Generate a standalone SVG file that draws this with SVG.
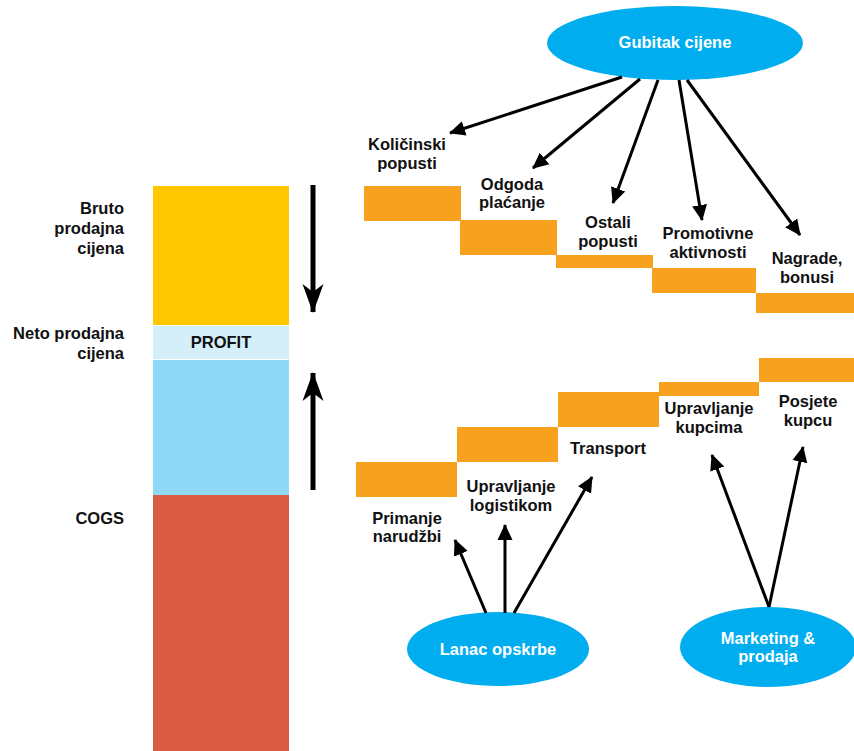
<svg xmlns="http://www.w3.org/2000/svg" width="854" height="751" viewBox="0 0 854 751">
<style>
.t{font-family:"Liberation Sans",Arial,sans-serif;font-weight:bold;font-size:16.5px;fill:#111}
.w{font-family:"Liberation Sans",Arial,sans-serif;font-weight:bold;font-size:16.5px;fill:#fff}
.st{fill:#f7a11f}
.ell{fill:#00aeef}
.c{stroke:#000;stroke-width:3;fill:none;marker-end:url(#ah)}
.k{stroke:#000;stroke-width:5;fill:none;marker-end:url(#ahb)}
</style>
<defs>
<marker id="ah" markerUnits="userSpaceOnUse" markerWidth="17" markerHeight="17" viewBox="0 0 17 17" refX="15" refY="8.5" orient="auto">
<path d="M0,1 L16,8.5 L0,16 Z" fill="#000"/>
</marker>
<marker id="ahb" markerUnits="userSpaceOnUse" markerWidth="30" markerHeight="22" viewBox="0 0 30 22" refX="28" refY="11" orient="auto">
<path d="M0,0.5 L29,11 L0,21.5 L8,11 Z" fill="#000"/>
</marker>
</defs>
<rect width="854" height="751" fill="#fff"/>

<g id="bar">
<rect x="153" y="186" width="136" height="139" fill="#ffc800"/>
<rect x="153" y="326" width="136" height="33" fill="#d4eefa"/>
<rect x="153" y="360" width="136" height="135" fill="#8fd8f6"/>
<rect x="153" y="495" width="136" height="256" fill="#d95b43"/>
<text class="t" x="221" y="348" text-anchor="middle">PROFIT</text>
</g>
<g id="labels-left" class="t" text-anchor="end">
<text x="124" y="214">Bruto</text>
<text x="124" y="234">prodajna</text>
<text x="124" y="254">cijena</text>
<text x="124" y="339">Neto prodajna</text>
<text x="124" y="359">cijena</text>
<text x="124" y="524">COGS</text>
</g>

<g id="stairs-top">
<rect class="st" x="364" y="186" width="97" height="35"/>
<rect class="st" x="460" y="220" width="97" height="35"/>
<rect class="st" x="556" y="255" width="97" height="13"/>
<rect class="st" x="652" y="268" width="104" height="25"/>
<rect class="st" x="756" y="293" width="98" height="20"/>
</g>
<g id="stairs-bottom">
<rect class="st" x="356" y="462" width="101" height="35"/>
<rect class="st" x="457" y="427" width="101" height="35"/>
<rect class="st" x="558" y="392" width="101" height="35"/>
<rect class="st" x="659" y="382" width="100" height="14"/>
<rect class="st" x="759" y="358" width="95" height="24"/>
</g>

<g id="labels-top" class="t" text-anchor="middle">
<text x="407" y="150">Količinski</text>
<text x="407" y="169">popusti</text>
<text x="512" y="190">Odgoda</text>
<text x="512" y="208">plaćanje</text>
<text x="608" y="228">Ostali</text>
<text x="608" y="247">popusti</text>
<text x="708" y="239">Promotivne</text>
<text x="708" y="258">aktivnosti</text>
<text x="807" y="264">Nagrade,</text>
<text x="807" y="283">bonusi</text>
</g>
<g id="labels-bottom" class="t" text-anchor="middle">
<text x="608" y="454">Transport</text>
<text x="709" y="414">Upravljanje</text>
<text x="709" y="433">kupcima</text>
<text x="808" y="407">Posjete</text>
<text x="808" y="426">kupcu</text>
<text x="511" y="492">Upravljanje</text>
<text x="511" y="511">logistikom</text>
<text x="407" y="524">Primanje</text>
<text x="407" y="542">narudžbi</text>
</g>

<g id="gubitak">
<ellipse class="ell" cx="675" cy="43" rx="128" ry="37"/>
<text class="w" x="675" y="48" text-anchor="middle">Gubitak cijene</text>
</g>
<g id="lanac">
<ellipse class="ell" cx="498" cy="649" rx="91" ry="37"/>
<text class="w" x="498" y="655" text-anchor="middle">Lanac opskrbe</text>
</g>
<g id="marketing">
<ellipse class="ell" cx="768" cy="647" rx="88" ry="40"/>
<text class="w" x="768" y="644" text-anchor="middle">Marketing &amp;</text>
<text class="w" x="768" y="662" text-anchor="middle">prodaja</text>
</g>

<g id="connectors">
<line class="k" x1="313" y1="185" x2="313" y2="312"/>
<line class="k" x1="313" y1="490" x2="313" y2="373"/>
<line class="c" x1="622" y1="77" x2="450" y2="133"/>
<line class="c" x1="640" y1="79" x2="533" y2="168"/>
<line class="c" x1="658" y1="80" x2="613" y2="203"/>
<line class="c" x1="679" y1="80" x2="702" y2="220"/>
<line class="c" x1="687" y1="80" x2="800" y2="235"/>
<line class="c" x1="486" y1="613" x2="455" y2="540"/>
<line class="c" x1="505" y1="613" x2="505" y2="525"/>
<line class="c" x1="514" y1="613" x2="592" y2="477"/>
<line class="c" x1="769" y1="607" x2="712" y2="455"/>
<line class="c" x1="769" y1="607" x2="803" y2="447"/>
</g>
</svg>
